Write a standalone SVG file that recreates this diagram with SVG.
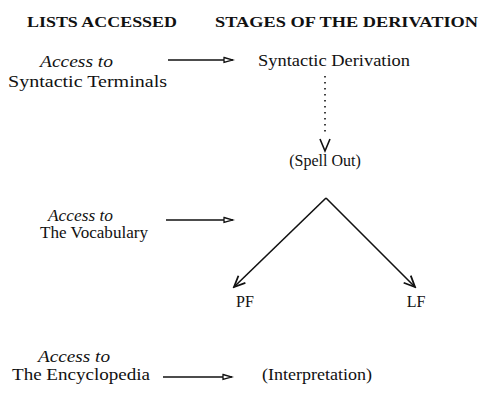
<svg xmlns="http://www.w3.org/2000/svg" width="481" height="398" viewBox="0 0 481 398">
<defs>
<style>
text{font-family:"Liberation Serif","Times New Roman",serif;fill:#111;font-size:16px}
.h{font-weight:bold;font-size:15px}
.i{font-style:italic}
.c{text-anchor:middle}
.ln{stroke:#111;stroke-width:1.6;fill:none}
.dot{stroke:#111;stroke-width:1.6;fill:none;stroke-dasharray:1.5 4.5}
</style>
<marker id="open" markerWidth="12" markerHeight="8" refX="10" refY="4" orient="auto" markerUnits="userSpaceOnUse">
<path d="M1,1.5 L10,4 L1,6.5 Z" fill="#fff" stroke="#111" stroke-width="1.3"/>
</marker>
<marker id="vee" markerWidth="14" markerHeight="14" refX="12" refY="7" orient="auto" markerUnits="userSpaceOnUse">
<path d="M1,2 L12,7 L1,12" fill="none" stroke="#111" stroke-width="1.8"/>
</marker>
</defs>
<rect width="481" height="398" fill="#fff"/>
<g id="header">
<text class="h" x="27" y="27" textLength="150" lengthAdjust="spacingAndGlyphs">LISTS ACCESSED</text>
<text class="h" x="215" y="27" textLength="263" lengthAdjust="spacingAndGlyphs">STAGES OF THE DERIVATION</text>
</g>
<g id="terminals">
<text class="i" x="40" y="67" textLength="73" lengthAdjust="spacingAndGlyphs">Access to</text>
<text x="8" y="87" textLength="159" lengthAdjust="spacingAndGlyphs">Syntactic Terminals</text>
</g>
<g id="syntactic-derivation">
<text x="258" y="66" textLength="152" lengthAdjust="spacingAndGlyphs">Syntactic Derivation</text>
</g>
<g id="spell-out">
<text class="c" x="325" y="166">(Spell Out)</text>
</g>
<g id="vocabulary">
<text class="i" x="48" y="221" textLength="65" lengthAdjust="spacingAndGlyphs">Access to</text>
<text x="40" y="238" textLength="108" lengthAdjust="spacingAndGlyphs">The Vocabulary</text>
</g>
<g id="pf"><text class="c" x="245" y="307">PF</text></g>
<g id="lf"><text class="c" x="416" y="307">LF</text></g>
<g id="encyclopedia">
<text class="i" x="38" y="362" textLength="72" lengthAdjust="spacingAndGlyphs">Access to</text>
<text x="12" y="380" textLength="138" lengthAdjust="spacingAndGlyphs">The Encyclopedia</text>
</g>
<g id="interpretation">
<text x="262" y="380" textLength="110" lengthAdjust="spacingAndGlyphs">(Interpretation)</text>
</g>
<g id="connectors">
<line class="ln" x1="168" y1="60" x2="233" y2="60" marker-end="url(#open)"/>
<line class="dot" x1="325" y1="76" x2="325" y2="136"/>
<path d="M320,139 L325,151 L330,139" class="ln"/>
<line class="ln" x1="326" y1="198" x2="234" y2="287" marker-end="url(#vee)"/>
<line class="ln" x1="326" y1="198" x2="415" y2="287" marker-end="url(#vee)"/>
<line class="ln" x1="166" y1="220" x2="233" y2="220" marker-end="url(#open)"/>
<line class="ln" x1="163" y1="377" x2="232" y2="377" marker-end="url(#open)"/>
</g>
</svg>
